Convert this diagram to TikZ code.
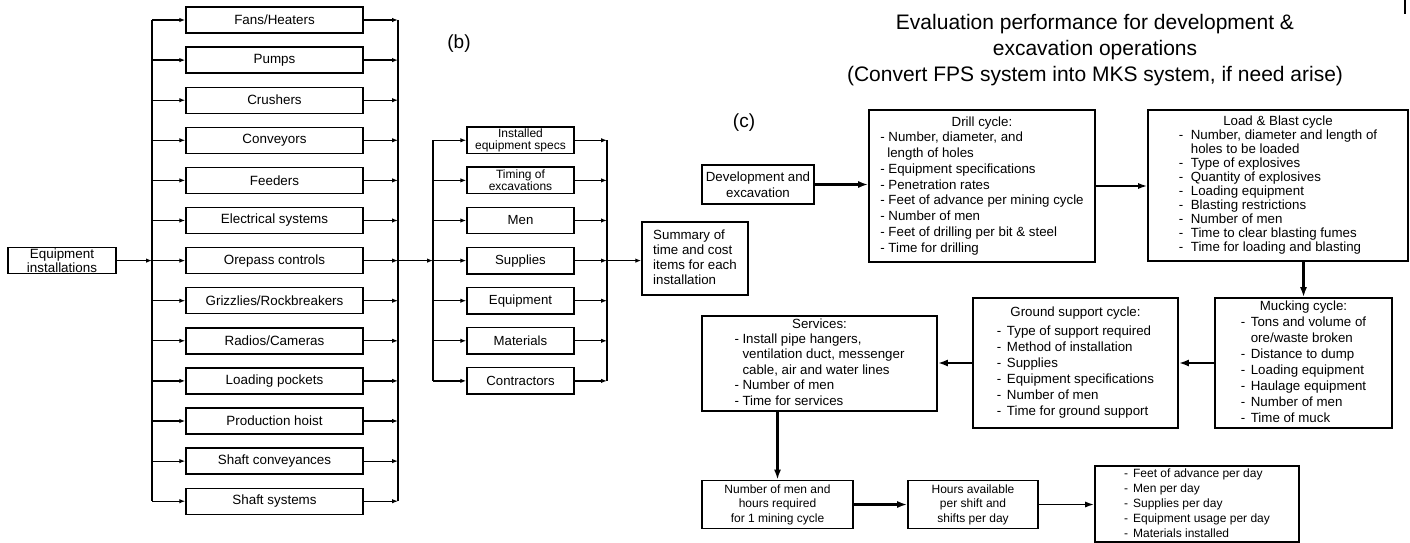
\documentclass[tikz,border=0pt]{standalone}
\usepackage{fontspec}
\setmainfont{Liberation Sans}
\usetikzlibrary{arrows.meta}
\newcommand\dashit[2]{\makebox[#1][l]{-}#2}
\newcommand\tightls{\lineskiplimit=-30pt\relax}
\begin{document}
\begin{tikzpicture}[x=1pt,y=-1pt,
  lbox/.style={draw,line width=1.4pt,minimum width=177pt,minimum height=26pt,inner sep=0pt,font=\fontsize{13.4}{15}\selectfont},
  mbox/.style={draw,line width=1.4pt,minimum width=107pt,minimum height=26.5pt,inner sep=0pt,align=center,font=\fontsize{13.2}{15}\selectfont},
  cbox/.style={draw,line width=1.6pt,inner sep=0pt},
  bus/.style={line width=1.2pt},
  tarr/.style={line width=1.2pt,-{Latex[length=6pt,width=4.5pt]}},
  marr/.style={line width=1.6pt,-{Latex[length=9pt,width=6pt]}},
  karr/.style={line width=2.6pt,-{Latex[length=10pt,width=7pt]}},
  lbl/.style={font=\fontsize{19}{22}\selectfont,inner sep=0pt}]
\useasboundingbox (0,0) rectangle (1410,543);
\fill[white] (0,0) rectangle (1410,543);

% ---- part (a) ----
\coordinate (lb1) at (152,0);
\coordinate (rb1) at (398,0);
\coordinate (lb2) at (433,0);
\coordinate (rb2) at (607,0);

\foreach \t [count=\i] in {Fans/Heaters,Pumps,Crushers,Conveyors,Feeders,Electrical systems,Orepass controls,Grizzlies/Rockbreakers,Radios/Cameras,Loading pockets,Production hoist,Shaft conveyances,Shaft systems}{
  \node[lbox] (n\i) at (274.5,{20+40.1*(\i-1)}) {\t};
  \draw[tarr] (n\i.west -| lb1) -- (n\i.west);
  \draw[tarr] (n\i.east) -- (n\i.east -| rb1);
}
\draw[bus] (n1.west -| lb1) -- (n13.west -| lb1);
\draw[bus] (n1.east -| rb1) -- (n13.east -| rb1);

\node[draw,line width=1.4pt,minimum width=108pt,minimum height=26pt,inner sep=0pt,align=center,
  font=\fontsize{13.4}{10}\selectfont] (eq) at (62,260.6) {\tightls Equipment\\installations};
\draw[tarr] (eq.east) -- (eq.east -| lb1);

\node[lbl] (lblb) at (459,44) {(b)};

% ---- second group ----
\node[mbox,font=\fontsize{12}{12}\selectfont] (s1) at (520.5,{20+40.1*3}) {\tightls Installed\\equipment specs};
\node[mbox,font=\fontsize{12}{12.5}\selectfont] (s2) at (520.5,{20+40.1*4}) {\tightls Timing of\\excavations};
\node[mbox] (s3) at (520.5,{20+40.1*5}) {Men};
\node[mbox] (s4) at (520.5,{20+40.1*6}) {Supplies};
\node[mbox] (s5) at (520.5,{20+40.1*7}) {Equipment};
\node[mbox] (s6) at (520.5,{20+40.1*8}) {Materials};
\node[mbox] (s7) at (520.5,{20+40.1*9}) {Contractors};
\foreach \i in {1,...,7}{
  \draw[tarr] (s\i.west -| lb2) -- (s\i.west);
  \draw[tarr] (s\i.east) -- (s\i.east -| rb2);
}
\draw[bus] (s1.west -| lb2) -- (s7.west -| lb2);
\draw[bus] (s1.east -| rb2) -- (s7.east -| rb2);
\draw[tarr] (n7.east -| rb1) -- (s4.west -| lb2);

\node[cbox,line width=1.5pt,minimum width=106pt,minimum height=73pt,font=\fontsize{13.3}{15}\selectfont] (sum) at (695,258.5)
  {\begin{tabular}{@{}l@{}}Summary of\\time and cost\\items for each\\installation\end{tabular}};
\draw[tarr] (s4.east -| rb2) -- (sum.west |- s4.east);

% ---- part (c) ----
\node[font=\fontsize{21}{26}\selectfont,align=center,inner sep=0pt] (title) at (1095,50.5)
  {Evaluation performance for development \&\\excavation operations\\(Convert FPS system into MKS system, if need arise)};
\node[lbl] (lblc) at (744,123) {(c)};

\node[cbox,align=center,minimum width=112pt,minimum height=39pt,font=\fontsize{13.3}{15.5}\selectfont] (dev) at (758,184.5) {Development and\\excavation};

\node[cbox,minimum width=226pt,minimum height=152pt,font=\fontsize{13.3}{15.75}\selectfont] (drill) at (982,186)
  {\begin{tabular}{@{}l@{}}\multicolumn{1}{@{}c@{}}{Drill cycle:}\\
   - Number, diameter, and\\
   \hspace{7pt}length of holes\\
   - Equipment specifications\\
   - Penetration rates\\
   - Feet of advance per mining cycle\\
   - Number of men\\
   - Feet of drilling per bit \& steel\\
   - Time for drilling\end{tabular}};

\node[cbox,minimum width=260pt,minimum height=151pt,font=\fontsize{13.3}{14}\selectfont] (load) at (1278,185.5)
  {\begin{tabular}{@{}l@{}}\multicolumn{1}{@{}c@{}}{Load \& Blast cycle}\\
   \dashit{12pt}{Number, diameter and length of}\\
   \hspace{12pt}holes to be loaded\\
   \dashit{12pt}{Type of explosives}\\
   \dashit{12pt}{Quantity of explosives}\\
   \dashit{12pt}{Loading equipment}\\
   \dashit{12pt}{Blasting restrictions}\\
   \dashit{12pt}{Number of men}\\
   \dashit{12pt}{Time to clear blasting fumes}\\
   \dashit{12pt}{Time for loading and blasting}\end{tabular}};

\node[cbox,minimum width=177pt,minimum height=130pt,font=\fontsize{13.3}{16}\selectfont] (muck) at (1303.5,363)
  {\begin{tabular}{@{}l@{}}\multicolumn{1}{@{}c@{}}{Mucking cycle:}\\
   \dashit{10pt}{Tons and volume of}\\
   \hspace{10pt}ore/waste broken\\
   \dashit{10pt}{Distance to dump}\\
   \dashit{10pt}{Loading equipment}\\
   \dashit{10pt}{Haulage equipment}\\
   \dashit{10pt}{Number of men}\\
   \dashit{10pt}{Time of muck}\end{tabular}};

\node[cbox,minimum width=205pt,minimum height=130pt,font=\fontsize{13.3}{16}\selectfont] (ground) at (1075.5,363)
  {\begin{tabular}{@{}l@{}}\multicolumn{1}{@{}c@{}}{Ground support cycle:}\\[3pt]
   \dashit{10pt}{Type of support required}\\
   \dashit{10pt}{Method of installation}\\
   \dashit{10pt}{Supplies}\\
   \dashit{10pt}{Equipment specifications}\\
   \dashit{10pt}{Number of men}\\
   \dashit{10pt}{Time for ground support}\end{tabular}};

\node[cbox,minimum width=235pt,minimum height=95pt,font=\fontsize{13.3}{15.4}\selectfont] (serv) at (819.5,363.5)
  {\begin{tabular}{@{}l@{}}\multicolumn{1}{@{}c@{}}{Services:}\\
   \dashit{8pt}{Install pipe hangers,}\\
   \hspace{8pt}ventilation duct, messenger\\
   \hspace{8pt}cable, air and water lines\\
   \dashit{8pt}{Number of men}\\
   \dashit{8pt}{Time for services}\end{tabular}};

\node[cbox,align=center,minimum width=151pt,minimum height=48pt,font=\fontsize{12}{14.5}\selectfont] (men) at (777.5,504.5)
  {Number of men and\\hours required\\for 1 mining cycle};
\node[cbox,align=center,minimum width=130pt,minimum height=48pt,font=\fontsize{12}{14.5}\selectfont] (hours) at (973,504.5)
  {Hours available\\per shift and\\shifts per day};
\node[cbox,minimum width=204pt,minimum height=76pt,font=\fontsize{12}{15}\selectfont] (final) at (1197,504)
  {\begin{tabular}{@{}l@{}}
   \dashit{9pt}{Feet of advance per day}\\
   \dashit{9pt}{Men per day}\\
   \dashit{9pt}{Supplies per day}\\
   \dashit{9pt}{Equipment usage per day}\\
   \dashit{9pt}{Materials installed}\end{tabular}};

\draw[karr] (dev.east) -- (dev.east -| drill.west);
\draw[marr] (drill.east) -- (load.west |- drill.east);
\draw[karr] (muck.north |- load.south) -- (muck.north);
\draw[karr] (muck.west) -- (ground.east);
\draw[karr] (ground.west) -- (serv.east |- ground.west);
\draw[karr] (men.north |- serv.south) -- (men.north);
\draw[karr] (men.east) -- (hours.west);
\draw[marr] (hours.east) -- (final.west |- hours.east);

\coordinate (mk1) at (1405,0);
\coordinate (mk2) at (1405,14);
\draw[line width=1.5pt] (mk1) -- (mk2);
\end{tikzpicture}
\end{document}
